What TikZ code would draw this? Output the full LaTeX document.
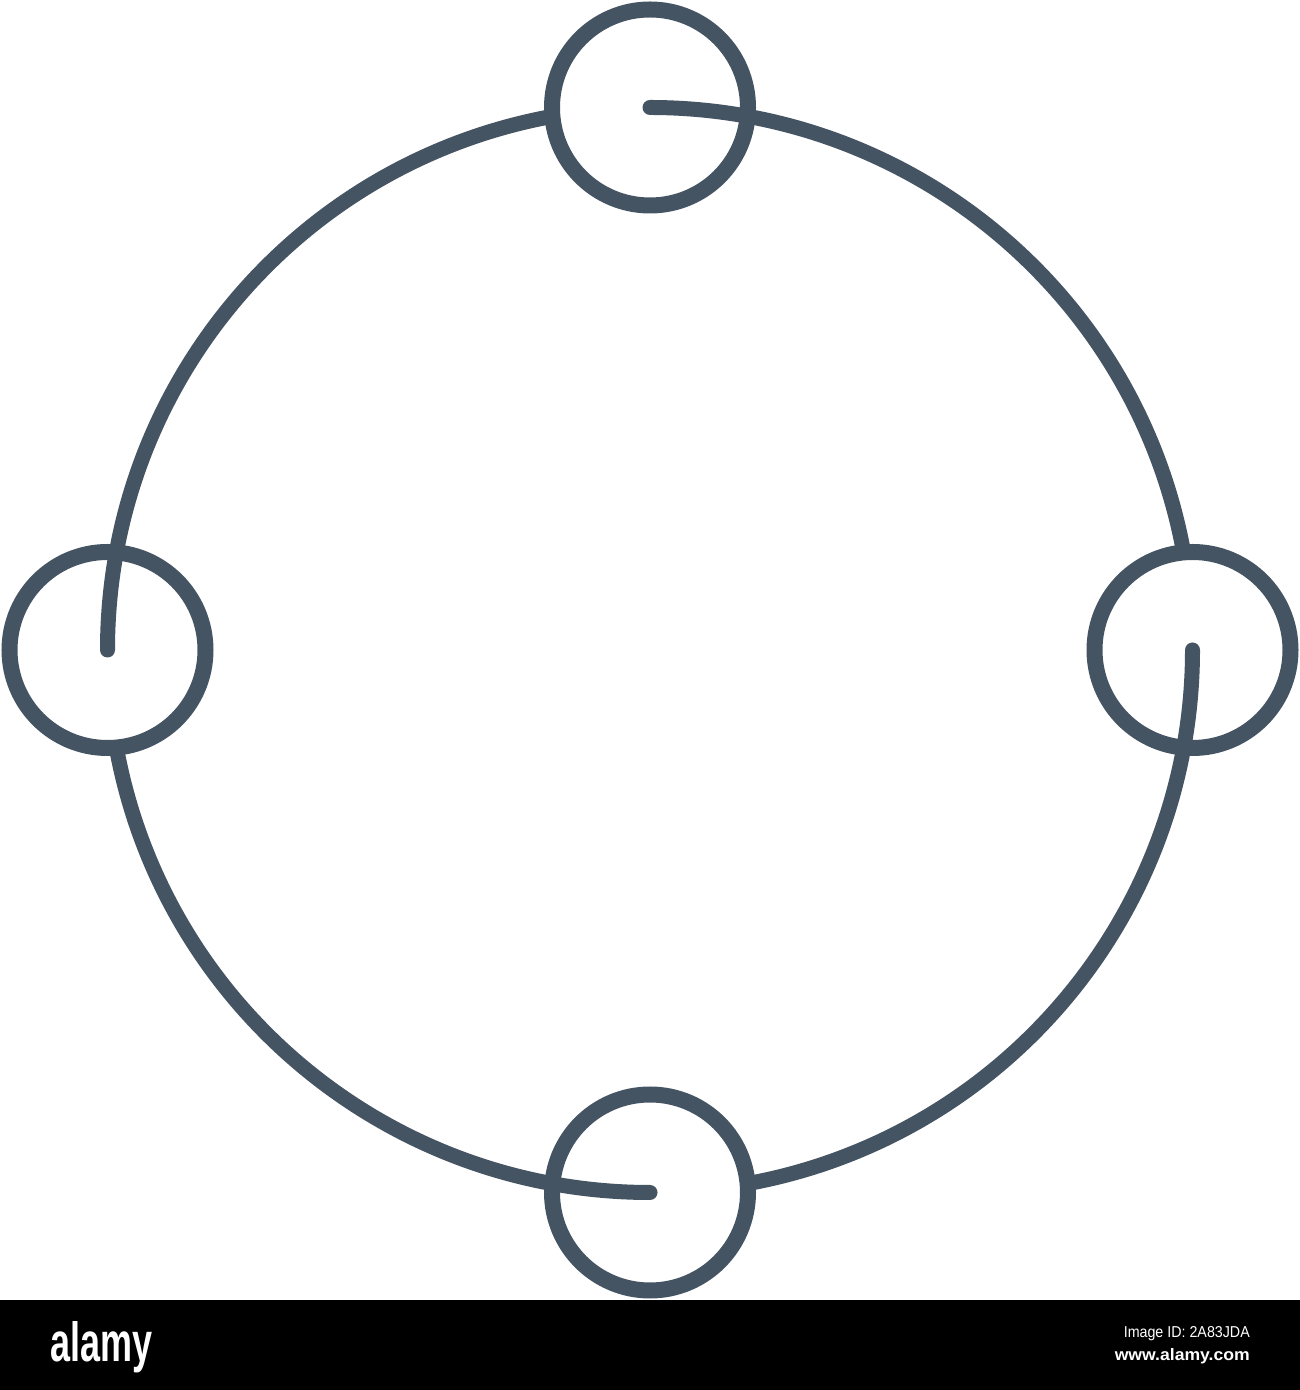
\documentclass[tikz,border=0pt]{standalone}
\usepackage{fontspec}
\setmainfont{Liberation Sans}
\definecolor{slate}{RGB}{69,84,99}
\tikzset{
  ring/.style={circle, draw=slate, line width=16pt, minimum size=196pt, inner sep=0pt},
  orbit/.style={draw=slate, line width=15pt, line cap=round},
  banner/.style={inner sep=0pt, text=white}
}
\begin{document}
\begin{tikzpicture}[x=1pt,y=1pt]
\useasboundingbox (0,0) rectangle (1300,1390);
\fill[white] (0,90) rectangle (1300,1390);
\fill[black] (0,0) rectangle (1300,90);
\coordinate (C) at (650,740);
\node[ring] (top) at (650,1282.5) {};
\node[ring] (right) at (1192.5,740) {};
\node[ring] (bottom) at (650,197.5) {};
\node[ring] (left) at (107.5,740) {};
\draw[orbit] (top.center) arc[start angle=90, end angle=10.5, radius=542.5];
\draw[orbit] (right.center) arc[start angle=0, end angle=-79.5, radius=542.5];
\draw[orbit] (bottom.center) arc[start angle=-90, end angle=-169.5, radius=542.5];
\draw[orbit] (left.center) arc[start angle=180, end angle=100.5, radius=542.5];
\node[banner, anchor=base west] (logo) at (50,28) {\resizebox{102pt}{40pt}{\bfseries alamy}};
\node[banner, anchor=base east] (imgid) at (1250,52) {\resizebox{126pt}{11pt}{Image ID: 2A83JDA}};
\node[banner, anchor=base east] (www) at (1250,29) {\resizebox{135pt}{12pt}{\bfseries www.alamy.com}};
\end{tikzpicture}
\end{document}
